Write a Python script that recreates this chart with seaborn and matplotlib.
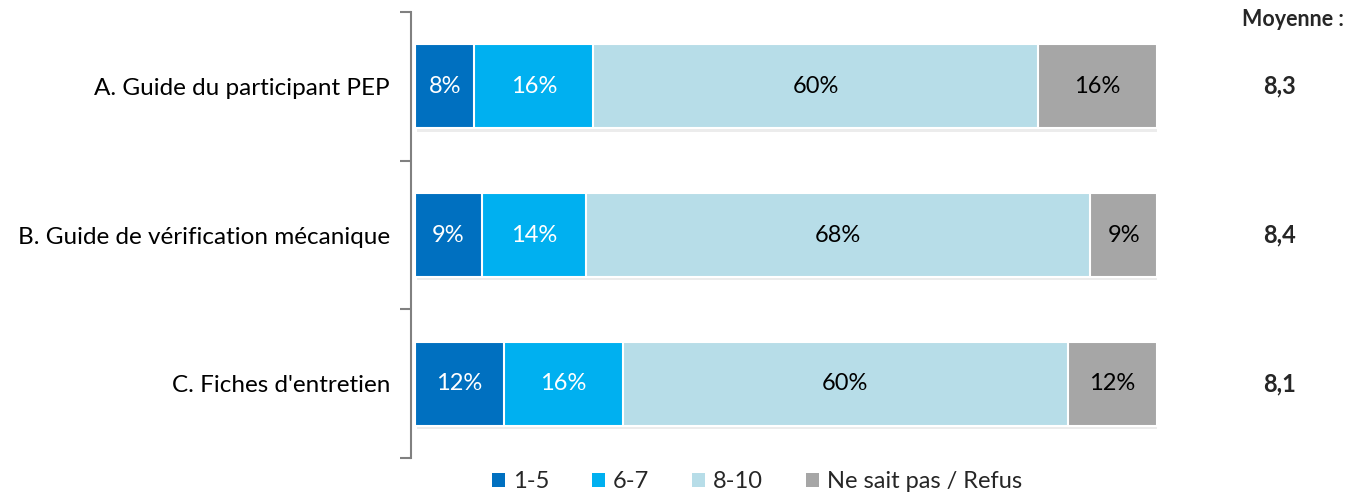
import matplotlib
matplotlib.use("Agg")
import matplotlib.pyplot as plt
import matplotlib.patheffects as pe
from matplotlib.patches import Patch
import seaborn as sns
import numpy as np
import pandas as pd

categories = ["A. Guide du participant PEP", "B. Guide de vérification mécanique", "C. Fiches d'entretien"]
series_names = ["1-5", "6-7", "8-10", "Ne sait pas / Refus"]
v_1_5 = [8, 9, 12]
v_6_7 = [16, 14, 16]
v_8_10 = [60, 68, 60]
v_ns = [16, 9, 12]
moyennes = ["8,3", "8,4", "8,1"]
colors = ["#0070C0", "#00B0F0", "#B7DDE8", "#A6A6A6"]
text_colors = ["white", "white", "black", "black"]

sns.set_theme(style="white")
plt.rcParams["font.family"] = ["Lato", "DejaVu Sans"]

fig = plt.figure(figsize=(13.54, 4.95), dpi=100)
ax = fig.add_axes([415/1354, 1-458/495, (1157-415)/1354, 446/495])

series = [v_1_5, v_6_7, v_8_10, v_ns]
cum = np.cumsum(np.array(series), axis=0)

shadow = [pe.SimplePatchShadow(offset=(1.5, -2.5), alpha=0.15, shadow_rgbFace="#808080"), pe.Normal()]
for i in range(len(series) - 1, -1, -1):
    df = pd.DataFrame({"cat": categories, "val": cum[i]})
    sns.barplot(data=df, y="cat", x="val", orient="h", color=colors[i], saturation=1,
                width=0.565, edgecolor="white", linewidth=1.5, ax=ax)
    if i == len(series) - 1:
        for p in ax.patches:
            p.set_path_effects(shadow)

for i, vals in enumerate(series):
    start = cum[i] - np.array(vals)
    for j, v in enumerate(vals):
        ax.text(start[j] + v / 2, j, f"{v}%", ha="center", va="center",
                color=text_colors[i], fontsize=17)

ax.set_xlim(0, 100)
ax.set_ylim(2.5, -0.5)
ax.set_xlabel("")
ax.set_ylabel("")
ax.set_xticks([])
for s in ["top", "right", "bottom"]:
    ax.spines[s].set_visible(False)
ax.spines["left"].set_color("#808080")
ax.spines["left"].set_linewidth(1.5)
ax.spines["left"].set_position(("outward", 3))
ax.set_yticks([-0.5, 0.5, 1.5, 2.5], minor=True)
ax.tick_params(axis="y", which="minor", length=8, width=1.5, color="#808080", left=True)
ax.tick_params(axis="y", which="major", length=0, pad=15, labelsize=17.5, labelcolor="black")

for j, m in enumerate(moyennes):
    fig.text(1280/1354, 1 - (86 + 149 * j) / 495, m, ha="center", va="center",
             fontsize=17, fontweight="bold")
fig.text(1293/1354, 1 - 20/495, "Moyenne :", ha="center", va="center",
         fontsize=15.5, fontweight="bold")

handles = [Patch(facecolor=c, edgecolor="none") for c in colors]
fig.legend(handles, series_names, loc="center", bbox_to_anchor=(757/1354, 1 - 482/495),
           ncol=4, frameon=False, fontsize=17, handlelength=0.55, handleheight=0.55,
           handletextpad=0.35, columnspacing=1.8)

fig.savefig("out.png", dpi=100)
